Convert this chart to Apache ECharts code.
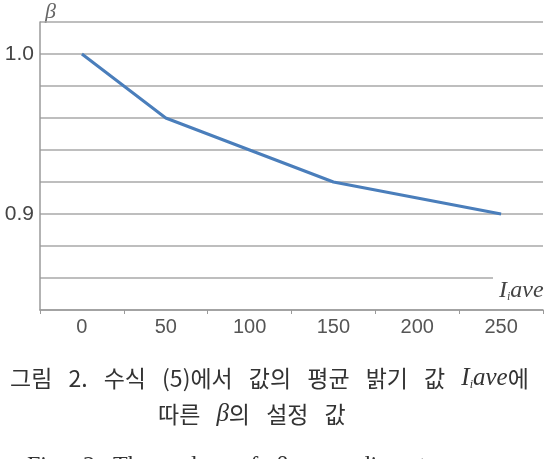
<!DOCTYPE html>
<html>
<head>
<meta charset="utf-8">
<script src="https://cdn.jsdelivr.net/npm/echarts@6/dist/echarts.min.js"></script>
<style>
  html, body { margin: 0; padding: 0; background: #fff; }
  #chart { width: 551px; height: 459px; }
</style>
</head>
<body>
<div id="chart"></div>
<script>
  // 평균 밝기 값 I_iave (category labels)
  const xLabels = ['0', '50', '100', '150', '200', '250'];
  // β 설정 값
  const betaValues = [1.0, 0.96, 0.94, 0.92, 0.91, 0.90];
  // only these y ticks get a label
  const yTickLabels = [1.0, 0.9];

  const chart = echarts.init(document.getElementById('chart'));
  const cjk = '"Noto Sans CJK KR", sans-serif';
  const serif = '"Liberation Serif", "DejaVu Serif", serif';
  const gap = '\u2002\u2009';

  chart.setOption({
    animation: false,
    grid: { left: 40, right: 8, top: 22, bottom: 149 },
    xAxis: {
      type: 'category',
      data: xLabels,
      boundaryGap: true,
      axisLine: { lineStyle: { color: '#9a9a9a', width: 1.5 } },
      axisTick: { show: true, length: 4, lineStyle: { color: '#9a9a9a' } },
      axisLabel: { color: '#555', fontSize: 20, margin: 7, fontFamily: 'Liberation Sans' }
    },
    yAxis: {
      type: 'value',
      min: 0.84,
      max: 1.02,
      interval: 0.02,
      axisLine: { show: true, lineStyle: { color: '#9a9a9a', width: 1.5 } },
      axisTick: { show: false },
      splitLine: { lineStyle: { color: '#a8a8a8', width: 1.5 } },
      axisLabel: {
        color: '#444',
        fontSize: 21,
        margin: 6,
        fontFamily: 'Liberation Sans',
        formatter: function (v) {
          for (const t of yTickLabels) {
            if (Math.abs(v - t) < 1e-6) return t.toFixed(1);
          }
          return '';
        }
      }
    },
    series: [{
      type: 'line',
      data: betaValues,
      symbol: 'none',
      lineStyle: { color: '#4a7ebb', width: 3 }
    }],
    graphic: [
      { type: 'text', left: 45, top: 1, style: { text: 'β', font: 'italic 22px ' + serif, fill: '#666' } },
      { type: 'rect', shape: { x: 493, y: 272, width: 55, height: 12 }, style: { fill: '#fff' }, z: 100 },
      {
        type: 'text', left: 499, top: 279, z: 101,
        style: {
          text: '{i|I}{s|i}{i|ave}',
          rich: {
            i: { font: 'italic 24px ' + serif, fill: '#444' },
            s: { font: 'italic 12px ' + serif, fill: '#444', verticalAlign: 'bottom', padding: [11, 0, 0, 0] }
          }
        }
      },
      {
        type: 'text', left: 10, top: 366,
        style: {
          text: '{a|그림' + gap + '2.' + gap + '수식' + gap + '(5)에서' + gap + '값의' + gap + '평균' + gap + '밝기' + gap + '값' + gap + '}{i|I}{s|i}{i|ave}{a|에}',
          rich: {
            a: { font: '23px ' + cjk, fill: '#333' },
            i: { font: 'italic 25px ' + serif, fill: '#333' },
            s: { font: 'italic 12px ' + serif, fill: '#333', verticalAlign: 'bottom', padding: [11, 0, 0, 0] }
          }
        }
      },
      {
        type: 'text', left: 158, top: 402,
        style: {
          text: '{a|따른' + gap + '}{i|β}{a|의' + gap + '설정' + gap + '값}',
          rich: {
            a: { font: '23px ' + cjk, fill: '#333' },
            i: { font: 'italic 25px ' + serif, fill: '#333' }
          }
        }
      },
      {
        type: 'text', left: 27, top: 454,
        style: { text: 'Fig.\u2002 2\u2002 The\u2002 value\u2002 of\u2002 β\u2002 according\u2002 to\u2002 average', font: '24px ' + serif, fill: '#333' }
      }
    ]
  });
</script>
</body>
</html>
